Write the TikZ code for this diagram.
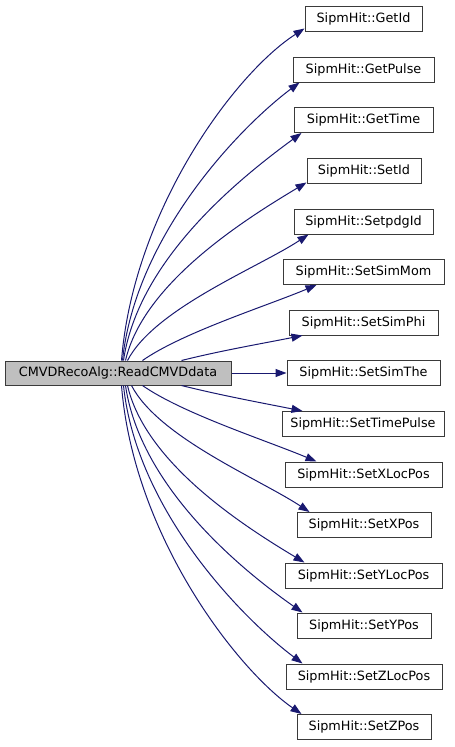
\documentclass[tikz,border=0pt]{standalone}
\usepackage{fontspec}
\setmainfont{DejaVu Sans}
\usetikzlibrary{arrows.meta}
\definecolor{edgeblue}{HTML}{191970}
\definecolor{boxline}{HTML}{3A3A3A}
\definecolor{mainfill}{HTML}{BFBFBF}
\tikzset{
  fnbox/.style={draw=boxline, line width=1pt, fill=white, minimum height=25pt, inner sep=0pt,
    font=\fontsize{12.8}{15}\selectfont},
  mainbox/.style={fnbox, fill=mainfill, minimum height=24pt},
  calledge/.style={draw=edgeblue, line width=1pt, -{Triangle[length=11pt,width=8pt]}},
}
\begin{document}
\begin{tikzpicture}[x=1pt,y=-1pt]
\useasboundingbox (0,0) rectangle (455,747);
\node[mainbox, minimum width=226pt] (m) at (118,373) {CMVDRecoAlg::ReadCMVDdata};
\node[fnbox, minimum width=117pt] (t1) at (363.5,18.5) {SipmHit::GetId};
\node[fnbox, minimum width=141pt] (t2) at (363.5,69.5) {SipmHit::GetPulse};
\node[fnbox, minimum width=139pt] (t3) at (363.5,120) {SipmHit::GetTime};
\node[fnbox, minimum width=114pt] (t4) at (364,170.5) {SipmHit::SetId};
\node[fnbox, minimum width=139pt] (t5) at (363.5,221.5) {SipmHit::SetpdgId};
\node[fnbox, minimum width=161pt] (t6) at (363.5,272) {SipmHit::SetSimMom};
\node[fnbox, minimum width=149pt] (t7) at (363.5,322.5) {SipmHit::SetSimPhi};
\node[fnbox, minimum width=153pt] (t8) at (363.5,373) {SipmHit::SetSimThe};
\node[fnbox, minimum width=162pt] (t9) at (363,424) {SipmHit::SetTimePulse};
\node[fnbox, minimum width=157pt] (t10) at (363.5,474.5) {SipmHit::SetXLocPos};
\node[fnbox, minimum width=134pt] (t11) at (364,525) {SipmHit::SetXPos};
\node[fnbox, minimum width=157pt] (t12) at (363.5,575.5) {SipmHit::SetYLocPos};
\node[fnbox, minimum width=134pt] (t13) at (364,625.5) {SipmHit::SetYPos};
\node[fnbox, minimum width=156pt] (t14) at (364,676.5) {SipmHit::SetZLocPos};
\node[fnbox, minimum width=134pt] (t15) at (364,727) {SipmHit::SetZPos};
% upper edges
\draw[calledge] ([xshift=117pt]m.north west) .. controls +(12,-150) and +(-70,45) .. ([yshift=3pt]t1.south west);
\draw[calledge] ([xshift=118pt]m.north west) .. controls +(13,-125) and +(-60,45) .. ([xshift=7pt]t2.south west);
\draw[calledge] ([xshift=119pt]m.north west) .. controls +(15,-102) and +(-60,44) .. ([xshift=8pt]t3.south west);
\draw[calledge] ([xshift=121pt]m.north west) .. controls +(18,-78) and +(-60,36) .. ([yshift=1pt]t4.south west);
\draw[calledge] ([xshift=123pt]m.north west) .. controls +(27,-52) and +(-50,33) .. ([xshift=15pt]t5.south west);
\draw[calledge] ([xshift=138pt]m.north west) .. controls +(40,-28) and +(-50,21) .. ([xshift=34pt]t6.south west);
\draw[calledge] ([xshift=177pt]m.north west) .. controls +(40,-10) and +(-40,8) .. ([xshift=14pt]t7.south west);
% middle
\draw[calledge] (m.east) -- (t8.west);
% lower edges
\draw[calledge] ([xshift=177pt]m.south west) .. controls +(40,10) and +(-40,-8) .. ([xshift=21pt]t9.north west);
\draw[calledge] ([xshift=138pt]m.south west) .. controls +(40,28) and +(-50,-21) .. ([xshift=32pt]t10.north west);
\draw[calledge] ([xshift=127pt]m.south west) .. controls +(27,52) and +(-50,-33) .. ([xshift=13pt]t11.north west);
\draw[calledge] ([xshift=123pt]m.south west) .. controls +(18,78) and +(-60,-36) .. ([xshift=20pt]t12.north west);
\draw[calledge] ([xshift=121pt]m.south west) .. controls +(15,102) and +(-60,-42) .. ([xshift=6pt]t13.north west);
\draw[calledge] ([xshift=119pt]m.south west) .. controls +(13,125) and +(-60,-45) .. ([xshift=17pt]t14.north west);
\draw[calledge] ([xshift=117pt]m.south west) .. controls +(12,150) and +(-65,-45) .. ([xshift=5pt]t15.north west);
\end{tikzpicture}
\end{document}
